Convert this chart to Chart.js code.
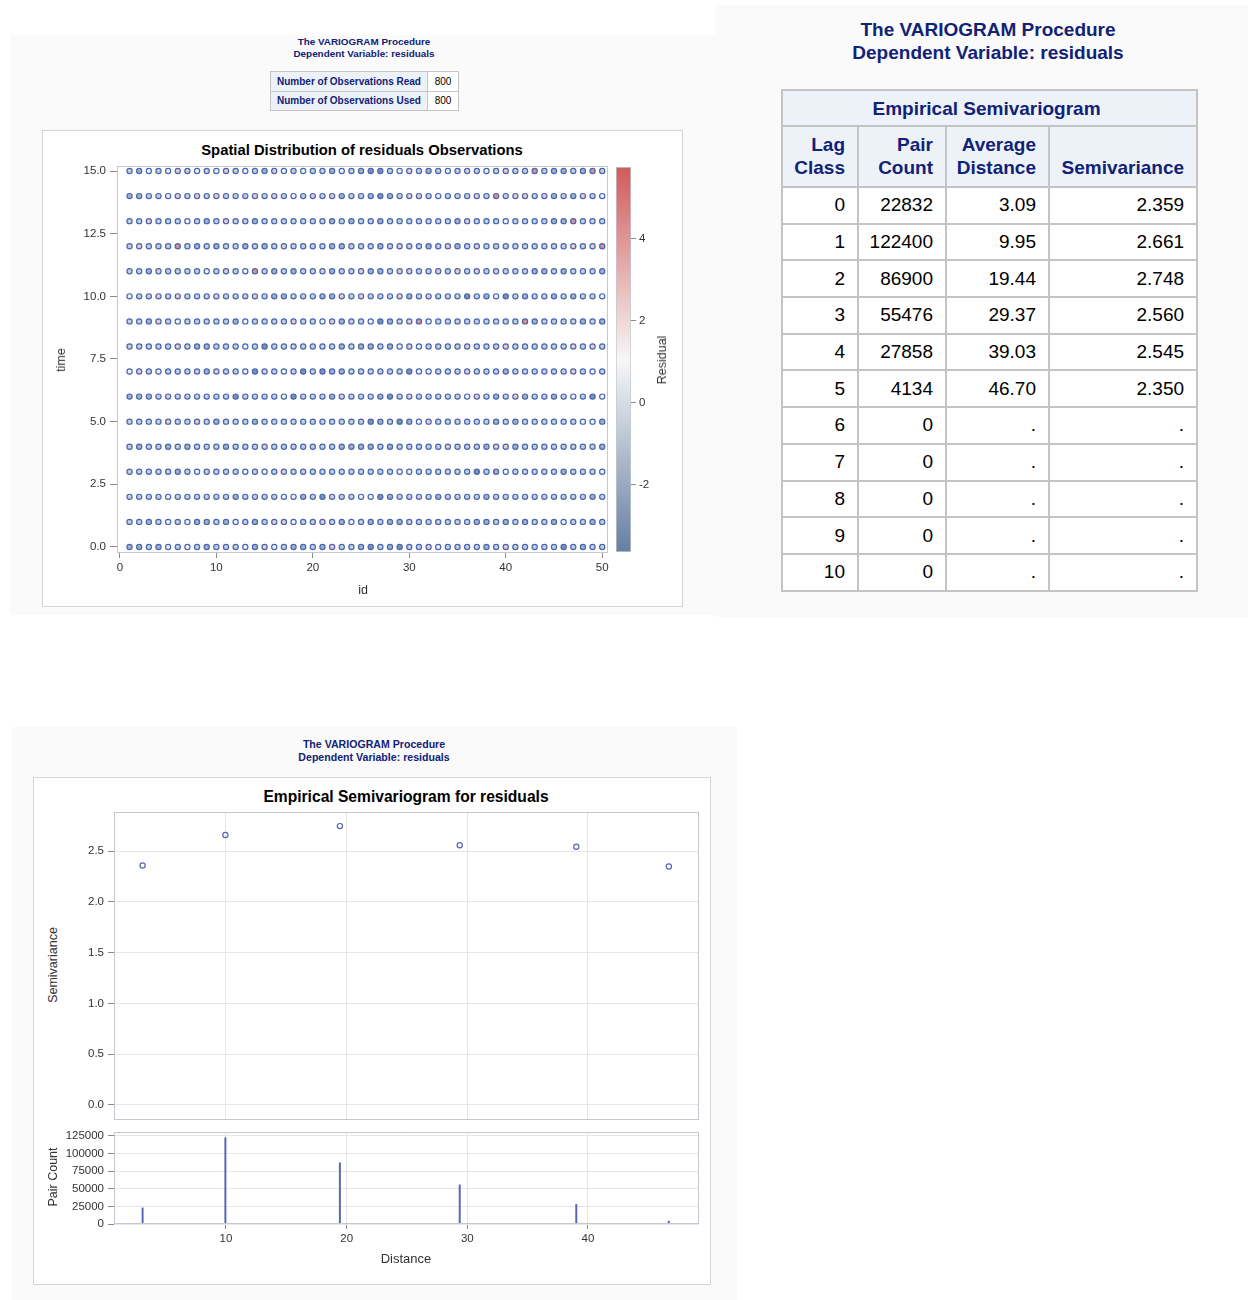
<!DOCTYPE html>
<html>
<head>
<meta charset="utf-8">
<title>VARIOGRAM Procedure - residuals</title>
<script src="https://cdn.jsdelivr.net/npm/chart.js@4.4.1/dist/chart.umd.min.js"></script>
<style>
  html, body { margin: 0; padding: 0; }
  body { width: 1248px; height: 1300px; position: relative; overflow: hidden; background: #ffffff;
         font-family: "Liberation Sans", Arial, sans-serif; }
  .panel { position: absolute; background: #fafafa; }
  .ptitle { position: absolute; color: #112277; font-weight: bold; white-space: nowrap;
            transform: translate(-50%, -50%); }
  .gbox { position: absolute; background: #ffffff; border: 1px solid #d4d4d4; box-sizing: border-box; }
  .gtitle { position: absolute; color: #000; font-weight: bold; white-space: nowrap;
            transform: translate(-50%, -50%); }
  .axt { position: absolute; color: #333; font-size: 12.5px; white-space: nowrap; transform: translate(-50%, -50%); }
  .axt.rot { transform: translate(-50%, -50%) rotate(-90deg); }
  canvas { position: absolute; }
  table { position: absolute; border-collapse: collapse; table-layout: fixed; }
  .small td { border: 1px solid #c4c4c4; font-size: 10px; height: 19.5px; padding: 0 6px; box-sizing: border-box; }
  .small td.h { background: #edf2f9; color: #112277; font-weight: bold; }
  .small td.v { background: #fff; color: #000; text-align: center; }
  .big td, .big th { border: 2px solid #c4c4c4; font-size: 19px; padding: 0 12px 0 6px; box-sizing: border-box; }
  .big th { background: #edf2f9; color: #112277; font-weight: bold; text-align: right; line-height: 23px;
            vertical-align: bottom; padding-bottom: 7px; }
  .big th.cap { text-align: center; height: 36px; vertical-align: middle; padding-bottom: 0; }
  .big td { background: #fff; color: #000; text-align: right; height: 36.7px; }
</style>
</head>
<body>

<!-- upper-left: observation layout -->
<div class="panel" style="left:10px; top:35px; width:705px; height:580px;"></div>
<div class="ptitle" style="left:364px; top:41px; font-size:9.9px;">The VARIOGRAM Procedure</div>
<div class="ptitle" style="left:364px; top:53px; font-size:9.9px;">Dependent Variable: residuals</div>
<table class="small" style="left:270px; top:71px; width:188px;">
  <colgroup><col style="width:157px"><col style="width:31px"></colgroup>
  <tr><td class="h">Number of Observations Read</td><td class="v" id="nRead"></td></tr>
  <tr><td class="h">Number of Observations Used</td><td class="v" id="nUsed"></td></tr>
</table>
<div class="gbox" style="left:42px; top:130px; width:641px; height:477px;"></div>
<div class="gtitle" style="left:362px; top:150px; font-size:14.8px;">Spatial Distribution of residuals Observations</div>
<canvas id="spatial" width="580" height="477" style="left:42px; top:130px;"></canvas>
<canvas id="colorbar" width="70" height="477" style="left:612px; top:130px;"></canvas>
<div class="axt rot" style="left:61px; top:360px;">time</div>
<div class="axt" style="left:363px; top:590px;">id</div>
<div class="axt rot" style="left:662px; top:360px;">Residual</div>

<!-- upper-right: empirical semivariogram table -->
<div class="panel" style="left:715px; top:5px; width:533px; height:612px;"></div>
<div class="ptitle" style="left:988px; top:30px; font-size:19px;">The VARIOGRAM Procedure</div>
<div class="ptitle" style="left:988px; top:53px; font-size:19px;">Dependent Variable: residuals</div>
<table class="big" id="semiTable" style="left:781px; top:89px; width:415px;">
  <colgroup><col style="width:76px"><col style="width:88px"><col style="width:103px"><col style="width:148px"></colgroup>
  <thead>
    <tr><th class="cap" colspan="4">Empirical Semivariogram</th></tr>
    <tr style="height:61px;"><th>Lag<br>Class</th><th>Pair<br>Count</th><th>Average<br>Distance</th><th>Semivariance</th></tr>
  </thead>
  <tbody id="semiBody"></tbody>
</table>

<!-- lower-left: semivariogram plot with pair counts -->
<div class="panel" style="left:12px; top:727px; width:725px; height:573px;"></div>
<div class="ptitle" style="left:374px; top:744px; font-size:10.6px;">The VARIOGRAM Procedure</div>
<div class="ptitle" style="left:374px; top:757px; font-size:10.6px;">Dependent Variable: residuals</div>
<div class="gbox" style="left:33px; top:777px; width:678px; height:508px;"></div>
<div class="gtitle" style="left:406px; top:797px; font-size:15.6px;">Empirical Semivariogram for residuals</div>
<canvas id="semivar" width="650" height="331" style="left:60px; top:801px;"></canvas>
<canvas id="pairs" width="650" height="164" style="left:60px; top:1121px;"></canvas>
<div class="axt rot" style="left:53px; top:965px;">Semivariance</div>
<div class="axt rot" style="left:53px; top:1177px;">Pair Count</div>
<div class="axt" style="left:406px; top:1258px; font-size:13px;">Distance</div>

<script>
// ---------------- data ----------------
const nObsRead = 800;
const nObsUsed = 800;

const idValues = [1,2,3,4,5,6,7,8,9,10,11,12,13,14,15,16,17,18,19,20,21,22,23,24,25,
                  26,27,28,29,30,31,32,33,34,35,36,37,38,39,40,41,42,43,44,45,46,47,48,49,50];
const timeValues = [0,1,2,3,4,5,6,7,8,9,10,11,12,13,14,15];

// Residual class per observation (one string per time row, ids 1..50 left to right)
const residualLevels = { d: -2.9, b: -1.7, l: -0.5, w: 0.9, p: 2.4, r: 4.2 };
const residualRows = [
  "bblbwlwlbl llwbpwlbbl bpllbdlbdl lpwllllblp llllldlbll", // time 0
  "llblwlwbbl bwlblppwll plbwlblbbl llllllbblb lbllbwllbl", // time 1
  "llllwlllll lbllllwwbl dpllwwdbll plbllllbll llllllllbl", // time 2
  "lllllblwll llwlwlplll llllllllww lllllldlbw lllllblllw", // time 3
  "lbllblblll blllplllll llbbbblbll lllplllbpp bllllllllb", // time 4
  "llllpllplb lllbllllll llllldbldb wpllllllbl bllllllwwb", // time 5
  "bbblplllll ldllllwdll lbplllbdlp lllllwplbl pbllblwldw", // time 6
  "wplwllllbp llwdplwldl dbblllllld wwlllplllb llllllplwl", // time 7
  "lllllplbbl llwldlllll llblbblbwp wllllplllp llllllplpl", // time 8
  "llbplwllll lbwllllpll wpbllwdblp rwllllllll lrbllllblb", // time 9
  "wllplplllp lllplbblll bbplplllpb lpllldlbwd lbllblbllw", // time 10
  "llbpllllwl plwrlblbll pbllpbblpp llplplplpl llbblblllb", // time 11
  "lplllrlblb llblblplll lbblllblpl lblpblplll llllllplpr", // time 12
  "llplllwlbl pllbllllll lblbllblll llllbplllw llllbbrlll", // time 13
  "bbllwplplp lllplplwlp lpbllbdblp plwlllplrl pplpblbplw", // time 14
  "lbwlwplwlw plwlbpwlwl lbwlbddlwp lblwlplwlp llrlbblbrl"  // time 15
];
const residualMin = -3.64;
const residualMax = 5.74;
const residualTicks = [-2, 0, 2, 4];

const idTicks = [0, 10, 20, 30, 40, 50];
const timeTicks = [0, 2.5, 5, 7.5, 10, 12.5, 15];

// Empirical semivariogram
const lagClass     = [0, 1, 2, 3, 4, 5, 6, 7, 8, 9, 10];
const pairCount    = [22832, 122400, 86900, 55476, 27858, 4134, 0, 0, 0, 0, 0];
const avgDistance  = [3.09, 9.95, 19.44, 29.37, 39.03, 46.70, null, null, null, null, null];
const semivariance = [2.359, 2.661, 2.748, 2.560, 2.545, 2.350, null, null, null, null, null];

const distanceTicks = [10, 20, 30, 40];
const semivarTicks = [0, 0.5, 1.0, 1.5, 2.0, 2.5];
const pairCountTicks = [0, 25000, 50000, 75000, 100000, 125000];

// ---------------- tables ----------------
document.getElementById('nRead').textContent = nObsRead;
document.getElementById('nUsed').textContent = nObsUsed;
const body = document.getElementById('semiBody');
lagClass.forEach((lag, i) => {
  const tr = document.createElement('tr');
  const cells = [
    String(lag),
    String(pairCount[i]),
    avgDistance[i] === null ? '.' : avgDistance[i].toFixed(2),
    semivariance[i] === null ? '.' : semivariance[i].toFixed(3)
  ];
  cells.forEach(t => { const td = document.createElement('td'); td.textContent = t; tr.appendChild(td); });
  body.appendChild(tr);
});

// ---------------- styling helpers ----------------
const TICK_FONT = { family: '"Liberation Sans", Arial, sans-serif', size: 11.5 };
const TICK_COLOR = '#333';
const AXIS_LINE = '#8a8a8a';
const GRID_LINE = '#e6e6e6';
const FRAME = '#c3c9cf';
const MARK = '#5a64b6';

const rampLow = [0x66, 0x7f, 0xa2], rampMid = [0xf7, 0xf7, 0xf7], rampHigh = [0xd0, 0x5b, 0x5b];
function residualColor(v) {
  let t = (v - residualMin) / (residualMax - residualMin);
  t = Math.max(0, Math.min(1, t));
  let a, b, u;
  if (t < 0.5) { a = rampLow; b = rampMid; u = t / 0.5; } else { a = rampMid; b = rampHigh; u = (t - 0.5) / 0.5; }
  const c = a.map((x, k) => Math.round(x + (b[k] - x) * u));
  return `rgb(${c[0]},${c[1]},${c[2]})`;
}

const framePlugin = {
  id: 'frame',
  afterDatasetsDraw(chart) {
    const a = chart.chartArea, ctx = chart.ctx;
    ctx.save();
    ctx.strokeStyle = FRAME;
    ctx.lineWidth = 1;
    ctx.strokeRect(Math.round(a.left) + 0.5, Math.round(a.top) + 0.5,
                   Math.round(a.right - a.left) - 1, Math.round(a.bottom - a.top) - 1);
    ctx.restore();
  }
};

function fixedTicks(values) {
  return scale => { scale.ticks = values.map(v => ({ value: v })); };
}

const base = {
  responsive: false,
  animation: false,
  events: [],
  plugins: { legend: { display: false }, tooltip: { enabled: false } }
};

// ---------------- spatial distribution of residuals ----------------
const points = [];
timeValues.forEach((t, ti) => {
  const codes = residualRows[ti].replace(/ /g, '');
  idValues.forEach((id, ii) => {
    points.push({ x: id, y: t, r: residualLevels[codes[ii]] });
  });
});

new Chart(document.getElementById('spatial'), {
  type: 'scatter',
  data: {
    datasets: [{
      data: points,
      backgroundColor: points.map(p => residualColor(p.r)),
      borderColor: '#4766b4',
      borderWidth: 1.2,
      pointRadius: 2.6,
      pointHoverRadius: 2.6
    }]
  },
  options: {
    ...base,
    layout: { padding: { top: 36, right: 14, left: 0, bottom: 0 } },
    scales: {
      x: {
        type: 'linear', min: -0.3, max: 50.6,
        afterBuildTicks: fixedTicks(idTicks),
        afterFit: s => { s.height = 54; },
        ticks: { font: TICK_FONT, color: TICK_COLOR, padding: 3, maxRotation: 0, autoSkip: false,
                 callback: v => String(v) },
        grid: { display: true, drawOnChartArea: false, drawTicks: true, tickLength: 5, tickColor: AXIS_LINE },
        border: { display: false }
      },
      y: {
        type: 'linear', min: -0.24, max: 15.2,
        afterBuildTicks: fixedTicks(timeTicks),
        afterFit: s => { s.width = 75; },
        ticks: { font: TICK_FONT, color: TICK_COLOR, padding: 4, autoSkip: false,
                 callback: v => v.toFixed(1) },
        grid: { display: true, drawOnChartArea: false, drawTicks: true, tickLength: 7, tickColor: AXIS_LINE },
        border: { display: false }
      }
    }
  },
  plugins: [framePlugin]
});

// ---------------- residual colour legend ----------------
new Chart(document.getElementById('colorbar'), {
  type: 'bar',
  data: {
    labels: ['Residual'],
    datasets: [{
      data: [[residualMin, residualMax]],
      backgroundColor: c => {
        const chart = c.chart, y = chart.scales.y;
        if (!y || !chart.chartArea) return residualColor((residualMin + residualMax) / 2);
        const g = chart.ctx.createLinearGradient(0, y.getPixelForValue(residualMin), 0, y.getPixelForValue(residualMax));
        g.addColorStop(0, residualColor(residualMin));
        g.addColorStop(0.5, residualColor((residualMin + residualMax) / 2));
        g.addColorStop(1, residualColor(residualMax));
        return g;
      },
      borderColor: '#c3c9cf',
      borderWidth: 1,
      borderSkipped: false,
      barPercentage: 1,
      categoryPercentage: 1
    }]
  },
  options: {
    ...base,
    layout: { padding: { top: 37, bottom: 55, left: 4, right: 0 } },
    scales: {
      x: { display: false },
      y: {
        position: 'right', min: residualMin, max: residualMax,
        afterBuildTicks: fixedTicks(residualTicks),
        afterFit: s => { s.width = 51; },
        ticks: { font: TICK_FONT, color: TICK_COLOR, padding: 3, callback: v => String(v) },
        grid: { display: true, drawOnChartArea: false, drawTicks: true, tickLength: 5, tickColor: AXIS_LINE },
        border: { display: false }
      }
    }
  }
});

// ---------------- semivariogram ----------------
const semiPoints = [];
const pairBars = [];
lagClass.forEach((lag, i) => {
  if (avgDistance[i] === null) return;
  semiPoints.push({ x: avgDistance[i], y: semivariance[i] });
  pairBars.push({ x: avgDistance[i], y: pairCount[i] });
});

const distMin = 0.72, distMax = 49.2;

new Chart(document.getElementById('semivar'), {
  type: 'scatter',
  data: {
    datasets: [{
      data: semiPoints,
      backgroundColor: 'rgba(0,0,0,0)',
      borderColor: MARK,
      borderWidth: 1.2,
      pointRadius: 2.6,
      pointHoverRadius: 2.6
    }]
  },
  options: {
    ...base,
    layout: { padding: { top: 4, right: 11, left: 0, bottom: 12 } },
    scales: {
      x: {
        type: 'linear', min: distMin, max: distMax,
        afterBuildTicks: fixedTicks(distanceTicks),
        afterFit: s => { s.height = 0; },
        ticks: { display: false },
        grid: { display: true, color: GRID_LINE, drawTicks: false },
        border: { display: false }
      },
      y: {
        type: 'linear', min: -0.149, max: 2.888,
        afterBuildTicks: fixedTicks(semivarTicks),
        afterFit: s => { s.width = 54; },
        ticks: { font: TICK_FONT, color: TICK_COLOR, padding: 4, callback: v => v.toFixed(1) },
        grid: { display: true, color: GRID_LINE, drawTicks: true, tickLength: 6, tickColor: AXIS_LINE },
        border: { display: false }
      }
    }
  },
  plugins: [framePlugin]
});

new Chart(document.getElementById('pairs'), {
  type: 'bar',
  data: {
    datasets: [{
      data: pairBars,
      backgroundColor: MARK,
      borderWidth: 0,
      barThickness: 1.3,
      grouped: false
    }]
  },
  options: {
    ...base,
    layout: { padding: { top: 3, right: 11, left: 0, bottom: 0 } },
    scales: {
      x: {
        type: 'linear', min: distMin, max: distMax, offset: false,
        afterBuildTicks: fixedTicks(distanceTicks),
        afterFit: s => { s.height = 61; },
        ticks: { font: TICK_FONT, color: TICK_COLOR, padding: 3, maxRotation: 0, callback: v => String(v) },
        grid: { display: true, offset: false, color: GRID_LINE, drawTicks: true, tickLength: 5, tickColor: AXIS_LINE },
        border: { display: false }
      },
      y: {
        type: 'linear', min: 0, max: 130600,
        afterBuildTicks: fixedTicks(pairCountTicks),
        afterFit: s => { s.width = 54; },
        ticks: { font: TICK_FONT, color: TICK_COLOR, padding: 4, callback: v => String(v) },
        grid: { display: true, color: GRID_LINE, drawTicks: true, tickLength: 6, tickColor: AXIS_LINE },
        border: { display: false }
      }
    }
  },
  plugins: [framePlugin]
});
</script>
</body>
</html>
